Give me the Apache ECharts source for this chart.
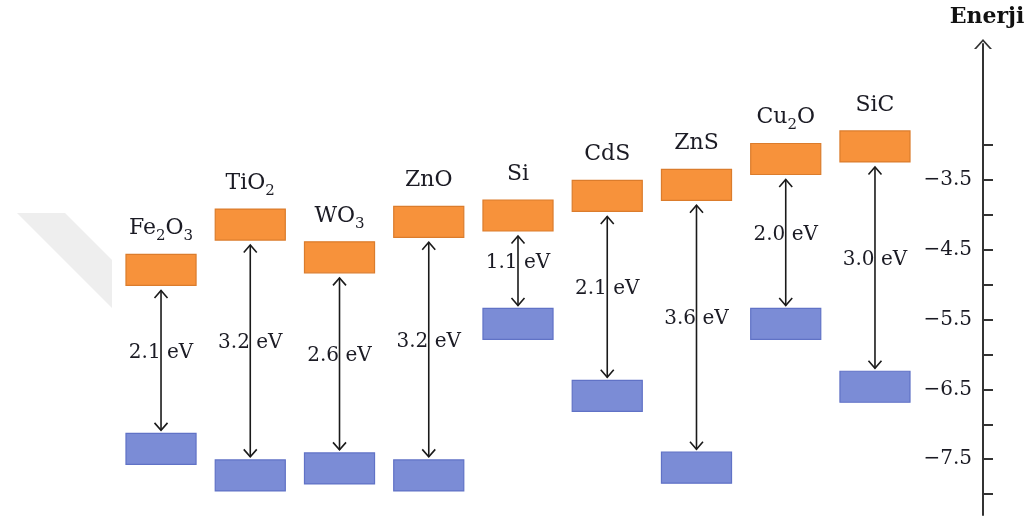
<!DOCTYPE html>
<html>
<head>
<meta charset="utf-8">
<script src="https://cdn.jsdelivr.net/npm/echarts@6/dist/echarts.min.js"></script>
<style>
html,body{margin:0;padding:0;background:#ffffff;}
#chart{width:1032px;height:518px;}
</style>
</head>
<body>
<div id="chart"></div>
<script>
// ---- data (energies in eV) ----
const materials = ['Fe2O3', 'TiO2', 'WO3', 'ZnO', 'Si', 'CdS', 'ZnS', 'Cu2O', 'SiC'];
const conductionEdge = [-5.01, -4.36, -4.83, -4.32, -4.23, -3.95, -3.79, -3.42, -3.24];
const valenceEdge = [-7.13, -7.51, -7.41, -7.51, -5.34, -6.37, -7.40, -5.34, -6.24];
const bandGaps = [2.1, 3.2, 2.6, 3.2, 1.1, 2.1, 3.6, 2.0, 3.0];
const tickValues = [-8, -7.5, -7, -6.5, -6, -5.5, -5, -4.5, -4, -3.5, -3];
const tickLabels = [-7.5, -6.5, -5.5, -4.5, -3.5];
const axisTitle = 'Enerji';

const SERIF = '"DejaVu Serif", "Liberation Serif", serif';
const TEXT = '#1b1b24';

const chart = echarts.init(document.getElementById('chart'), null, {renderer: 'canvas'});

const data = materials.map((m, i) => [i, conductionEdge[i], valenceEdge[i]]);

// chemical formula -> rich text with subscript digits
const formula = s => s.replace(/(\d+)/g, '{s|$1}');

function renderItem(params, api) {
  const i = params.dataIndex;
  const cb = api.coord([api.value(0), api.value(1)]);
  const vb = api.coord([api.value(0), api.value(2)]);
  const x = cb[0];
  const w = api.size([1, 0])[0] * 0.785;
  const h = 31;
  const top = cb[1] + 5;
  const bot = vb[1] - 3;
  const head = (tipY, dir) => ({
    type: 'polyline',
    shape: {points: [[x - 6.5, tipY + dir * 7.5], [x, tipY], [x + 6.5, tipY + dir * 7.5]]},
    style: {stroke: '#1a1a1a', lineWidth: 1.6, fill: null}
  });
  return {
    type: 'group',
    children: [
      {type: 'rect', shape: {x: x - w / 2, y: cb[1] - h, width: w, height: h},
        style: {fill: '#F7923B', stroke: '#DB7C2C', lineWidth: 1.2}},
      {type: 'rect', shape: {x: x - w / 2, y: vb[1], width: w, height: h},
        style: {fill: '#7B8CD6', stroke: '#6072C6', lineWidth: 1.2}},
      {type: 'line', shape: {x1: x, y1: top, x2: x, y2: bot},
        style: {stroke: '#1a1a1a', lineWidth: 1.6}},
      head(top, 1),
      head(bot, -1),
      {type: 'text', x: x, y: (top + bot) / 2 - 8,
        style: {text: bandGaps[i].toFixed(1) + ' eV', fill: TEXT, fontSize: 20, fontFamily: SERIF,
          align: 'center', verticalAlign: 'middle'}},
      {type: 'text', x: x, y: cb[1] - h - 26,
        style: {text: formula(materials[i]), fill: TEXT, fontSize: 22, fontFamily: SERIF,
          align: 'center', verticalAlign: 'middle',
          rich: {s: {fontSize: 15, fontFamily: SERIF, fill: TEXT, padding: [16, 0, 0, 0]}}}}
    ]
  };
}

const option = {
  animation: false,
  backgroundColor: '#ffffff',
  grid: {left: 116.4, right: 112.4, top: 44, bottom: 3, containLabel: false},
  graphic: [{
    type: 'polygon', silent: true, z: -10,
    shape: {points: [[17, 213], [65, 213], [112, 260], [112, 308]]},
    style: {fill: '#eeeeee'}
  }],
  xAxis: {
    type: 'category',
    data: materials,
    boundaryGap: true,
    show: false
  },
  yAxis: {
    type: 'value',
    position: 'right',
    offset: 63.4,
    min: -8.3,
    max: -1.55,
    name: axisTitle,
    nameLocation: 'end',
    nameGap: 16,
    nameTextStyle: {fontFamily: SERIF, fontWeight: 'bold', fontSize: 22, color: '#111111',
      align: 'center', verticalAlign: 'bottom', padding: [0, 0, 0, 8]},
    axisLine: {
      show: true,
      symbol: ['none', 'path://M0,100 L90,0 L180,100 L158,100 L90,24 L22,100 Z'],
      symbolSize: [18, 10],
      lineStyle: {color: '#333333', width: 2}
    },
    axisTick: {
      show: true,
      inside: false,
      length: 10,
      customValues: tickValues,
      lineStyle: {color: '#333333', width: 2}
    },
    axisLabel: {
      show: true,
      inside: true,
      margin: 11,
      customValues: tickLabels,
      fontFamily: SERIF,
      fontSize: 20,
      color: TEXT,
      formatter: v => (v < 0 ? '\u2212' : '') + Math.abs(v).toFixed(1)
    },
    splitLine: {show: false}
  },
  series: [{
    type: 'custom',
    renderItem: renderItem,
    data: data,
    encode: {x: 0, y: [1, 2]},
    clip: false
  }]
};

chart.setOption(option);
</script>
</body>
</html>
